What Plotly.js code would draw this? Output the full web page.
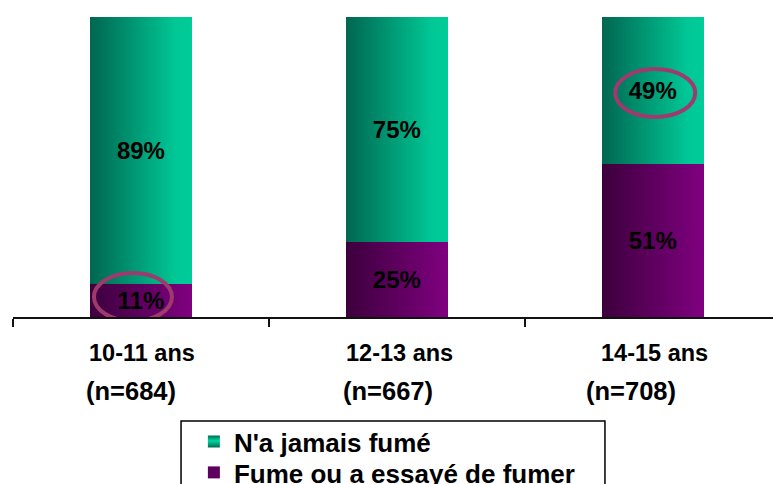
<!DOCTYPE html>
<html>
<head>
<meta charset="utf-8">
<script src="https://cdn.plot.ly/plotly-3.0.1.min.js"></script>
<style>html,body{margin:0;padding:0;background:#fff;}#chart{width:773px;height:484px;}</style>
</head>
<body>
<div id="chart"></div>
<script>
// ---- data ----
const categories = ["10-11 ans", "12-13 ans", "14-15 ans"];
const sampleLabels = ["(n=684)", "(n=667)", "(n=708)"];
const neverSmoked = [89, 75, 49];      // N'a jamais fumé
const smokedOrTried = [11, 25, 51];    // Fume ou a essayé de fumer
const seriesNames = ["N'a jamais fumé", "Fume ou a essayé de fumer"];
// highlighted labels: [series index (0 = never, 1 = smoked), category index]
const highlights = [[1, 0], [0, 2]];

// ---- styling ----
const FONT = "Liberation Sans, Arial, sans-serif";
const greenMid = "#009a74", purpleMid = "#5e005e";
const line1Shift = [1.5, 2.5, 2];
const line2Shift = [-9.5, -9, -22];
const ellipseOffsets = [ // [dx0, dx1, dy0, dy1] in pixels
  [-47, 31, -20.5, 27.5],
  [-37.5, 42.5, -26.5, 21.5]
];

const xIdx = categories.map((_, i) => i);

const traces = [
  {
    type: "bar", name: seriesNames[1], x: xIdx, y: smokedOrTried, legend: "legend2",
    marker: {color: purpleMid, line: {width: 0}},
    text: smokedOrTried.map(v => v + "%"), textposition: "inside",
    insidetextanchor: "middle", constraintext: "none",
    textfont: {family: FONT, size: 24, color: "#000", weight: "bold"},
    hoverinfo: "none"
  },
  {
    type: "bar", name: seriesNames[0], x: xIdx, y: neverSmoked, legend: "legend",
    marker: {color: greenMid, line: {width: 0}},
    text: neverSmoked.map(v => v + "%"), textposition: "inside",
    insidetextanchor: "middle", constraintext: "none",
    textfont: {family: FONT, size: 24, color: "#000", weight: "bold"},
    hoverinfo: "none"
  }
];

const annotations = [];
categories.forEach((c, i) => {
  annotations.push({x: i, xref: "x", y: -0.12, yref: "paper", text: "<b>" + c + "</b>",
    showarrow: false, xanchor: "center", yanchor: "middle", xshift: line1Shift[i],
    font: {family: FONT, size: 23.5, color: "#000"}});
  annotations.push({x: i, xref: "x", y: -0.2467, yref: "paper", text: "<b>" + sampleLabels[i] + "</b>",
    showarrow: false, xanchor: "center", yanchor: "middle", xshift: line2Shift[i],
    font: {family: FONT, size: 25.5, color: "#000"}});
});

const shapes = highlights.map((h, k) => {
  const [s, c] = h;
  const yc = s === 1 ? smokedOrTried[c] / 2 : smokedOrTried[c] + neverSmoked[c] / 2;
  const o = ellipseOffsets[k];
  return {
    type: "circle", xref: "x", yref: "y",
    xsizemode: "pixel", xanchor: c, x0: o[0], x1: o[1],
    ysizemode: "pixel", yanchor: yc, y0: o[2], y1: o[3],
    line: {color: "#9e3a6e", width: 4}, fillcolor: "rgba(0,0,0,0)", layer: "above"
  };
});
// legend frame
shapes.push({
  type: "rect", xref: "paper", yref: "paper",
  x0: 0.2211, x1: 0.7789, y0: -0.3467, y1: -0.7,
  line: {color: "#000", width: 1.5}, fillcolor: "#fff", layer: "above"
});

const legendStyle = (y) => ({
  x: 0.238, y: y, xanchor: "left", yanchor: "top",
  bgcolor: "rgba(0,0,0,0)", borderwidth: 0,
  font: {family: FONT, size: 26, color: "#000", weight: "bold"}
});

const layout = {
  width: 773, height: 484,
  margin: {l: 13, r: 0, t: 17, b: 167, autoexpand: false},
  paper_bgcolor: "#fff", plot_bgcolor: "#fff",
  barmode: "stack", bargap: 0.6,
  showlegend: true,
  legend: legendStyle(-0.337),
  legend2: legendStyle(-0.44),
  xaxis: {
    type: "linear", range: [-0.5, 2.47], tickvals: [-0.5, 0.5, 1.5, 2.5],
    showticklabels: false, showgrid: false, zeroline: false,
    showline: true, linecolor: "#111", linewidth: 2,
    ticks: "outside", ticklen: 8, tickwidth: 2, tickcolor: "#111", fixedrange: true
  },
  yaxis: {
    range: [0, 100], visible: false, showgrid: false, zeroline: false, fixedrange: true
  },
  annotations: annotations,
  shapes: shapes
};

Plotly.newPlot("chart", traces, layout, {staticPlot: true, displayModeBar: false}).then(gd => {
  const NS = "http://www.w3.org/2000/svg";
  const svg = gd.querySelector("svg.main-svg");
  let defs = svg.querySelector("defs");
  if (!defs) { defs = document.createElementNS(NS, "defs"); svg.insertBefore(defs, svg.firstChild); }
  function grad(id, stops, vertical) {
    const g = document.createElementNS(NS, "linearGradient");
    g.setAttribute("id", id);
    g.setAttribute("x1", "0"); g.setAttribute("y1", "0");
    g.setAttribute("x2", vertical ? "0" : "1"); g.setAttribute("y2", vertical ? "1" : "0");
    stops.forEach(([off, col]) => {
      const s = document.createElementNS(NS, "stop");
      s.setAttribute("offset", off); s.setAttribute("stop-color", col);
      g.appendChild(s);
    });
    defs.appendChild(g);
  }
  grad("gradPurple", [[0, "#3c003c"], [1, "#800080"]], false);
  grad("gradGreen", [[0, "#006650"], [0.85, "#00c896"], [1, "#00cc99"]], false);
  grad("legPurple", [[0, "#3a003a"], [0.45, "#8a008a"], [1, "#3a003a"]], true);
  grad("legGreen", [[0, "#006a50"], [0.45, "#00d8a0"], [1, "#006a50"]], true);
  const barTraces = gd.querySelectorAll(".barlayer .trace");
  const fills = ["url(#gradPurple)", "url(#gradGreen)"];
  barTraces.forEach((t, i) => {
    t.querySelectorAll(".point path").forEach(p => { p.style.fill = fills[i]; });
  });
  gd.querySelectorAll(".traces").forEach(t => {
    const tx = t.querySelector(".legendtext");
    const p = t.querySelector(".legendpoints path");
    if (tx && p) {
      p.style.fill = tx.textContent === seriesNames[0] ? "url(#legGreen)" : "url(#legPurple)";
    }
  });
});
</script>
</body>
</html>
